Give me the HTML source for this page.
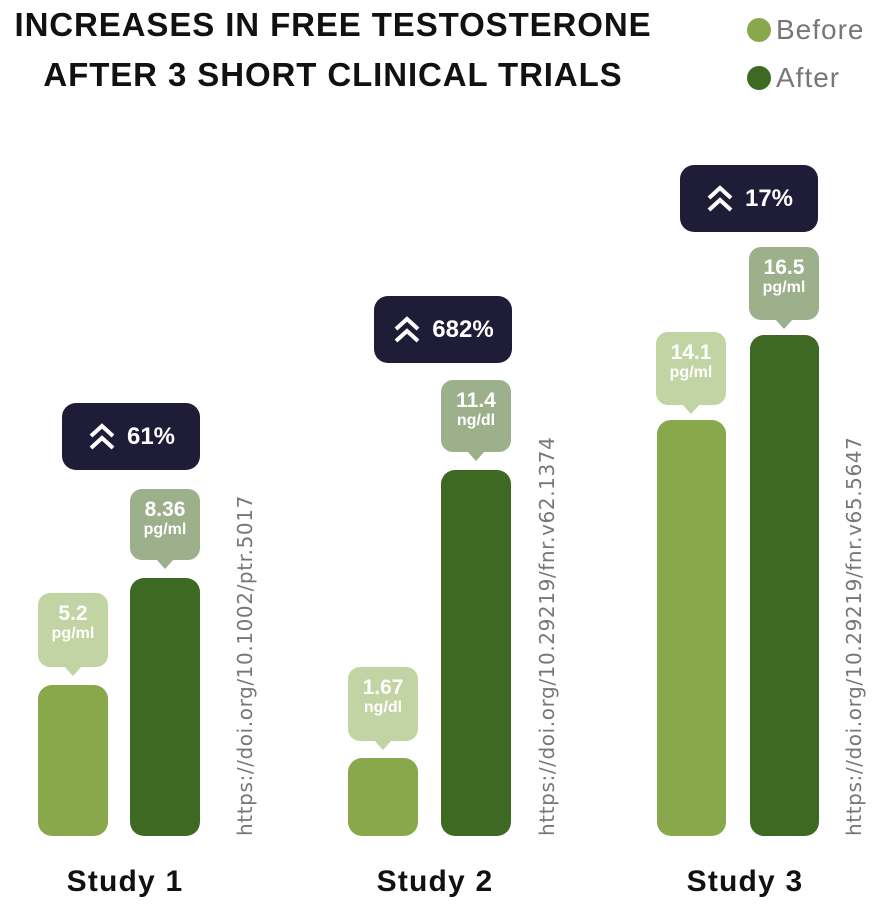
<!DOCTYPE html>
<html><head><meta charset="utf-8"><style>
body{margin:0;width:876px;height:913px;background:#fff;position:relative;overflow:hidden;font-family:"Liberation Sans",sans-serif}
.a{position:absolute}
.t{left:0;width:666px;text-align:center;font-weight:bold;font-size:33px;color:#111;letter-spacing:0.9px}
.dot{width:24px;height:24px;border-radius:50%}
.leg{font-size:28px;color:#777;letter-spacing:1px}
.bar{border-radius:14px}
.b{background:#89a84b}.f{background:#3e6922}
.lab{width:70px;border-radius:12px;color:#fff;text-align:center;font-weight:bold}
.lab .v{font-size:21px;margin-top:10px;line-height:22px}
.lab .u{font-size:16px;line-height:17px}
.lab:after{content:"";position:absolute;left:26px;bottom:-9px;border-left:9px solid transparent;border-right:9px solid transparent;border-top:10px solid var(--c)}
.lb{background:#c2d4a3;--c:#c2d4a3}.lf{background:#9db08c;--c:#9db08c}
.badge{width:138px;height:67px;border-radius:14px;background:#1f1c38;color:#fff;font-weight:bold;font-size:24px;display:flex;align-items:center;justify-content:center;gap:10px}
.doi{font-family:"DejaVu Sans",sans-serif;font-size:20px;letter-spacing:0.6px;color:#777;transform-origin:0 0;transform:rotate(-90deg);white-space:nowrap}
.st{font-weight:bold;font-size:30px;letter-spacing:1.2px;color:#111;width:200px;text-align:center;top:865px}
</style></head><body>
<div class="a t" style="top:6px">INCREASES IN FREE TESTOSTERONE</div>
<div class="a t" style="top:56px">AFTER 3 SHORT CLINICAL TRIALS</div>
<div class="a dot" style="left:747px;top:18px;background:#89a84b"></div>
<div class="a dot" style="left:747px;top:66px;background:#3e6922"></div>
<div class="a leg" style="left:776px;top:14px">Before</div>
<div class="a leg" style="left:776px;top:62px">After</div>

<div class="a bar b" style="left:38px;top:685px;width:70px;height:151px"></div>
<div class="a bar f" style="left:130px;top:578px;width:70px;height:258px"></div>
<div class="a bar b" style="left:348px;top:758px;width:70px;height:78px"></div>
<div class="a bar f" style="left:441px;top:470px;width:70px;height:366px"></div>
<div class="a bar b" style="left:657px;top:420px;width:69px;height:416px"></div>
<div class="a bar f" style="left:750px;top:335px;width:69px;height:501px"></div>

<div class="a lab lb" style="left:38px;top:593px;height:74px"><div class="v">5.2</div><div class="u">pg/ml</div></div>
<div class="a lab lf" style="left:130px;top:489px;height:71px"><div class="v">8.36</div><div class="u">pg/ml</div></div>
<div class="a lab lb" style="left:348px;top:667px;height:74px"><div class="v">1.67</div><div class="u">ng/dl</div></div>
<div class="a lab lf" style="left:441px;top:380px;height:72px"><div class="v">11.4</div><div class="u">ng/dl</div></div>
<div class="a lab lb" style="left:656px;top:332px;height:73px"><div class="v">14.1</div><div class="u">pg/ml</div></div>
<div class="a lab lf" style="left:749px;top:247px;height:73px"><div class="v">16.5</div><div class="u">pg/ml</div></div>

<div class="a badge" style="left:62px;top:403px"><svg width="30" height="30" viewBox="0 0 30 30"><path d="M4 14 L15 4 L26 14 M4 26 L15 16 L26 26" stroke="#fff" stroke-width="4" fill="none"/></svg>61%</div>
<div class="a badge" style="left:374px;top:296px"><svg width="30" height="30" viewBox="0 0 30 30"><path d="M4 14 L15 4 L26 14 M4 26 L15 16 L26 26" stroke="#fff" stroke-width="4" fill="none"/></svg>682%</div>
<div class="a badge" style="left:680px;top:165px"><svg width="30" height="30" viewBox="0 0 30 30"><path d="M4 14 L15 4 L26 14 M4 26 L15 16 L26 26" stroke="#fff" stroke-width="4" fill="none"/></svg>17%</div>

<div class="a doi" style="left:233px;top:836px">https://doi.org/10.1002/ptr.5017</div>
<div class="a doi" style="left:535px;top:836px">https://doi.org/10.29219/fnr.v62.1374</div>
<div class="a doi" style="left:842px;top:836px">https://doi.org/10.29219/fnr.v65.5647</div>

<div class="a st" style="left:25px">Study 1</div>
<div class="a st" style="left:335px">Study 2</div>
<div class="a st" style="left:645px">Study 3</div>
</body></html>
